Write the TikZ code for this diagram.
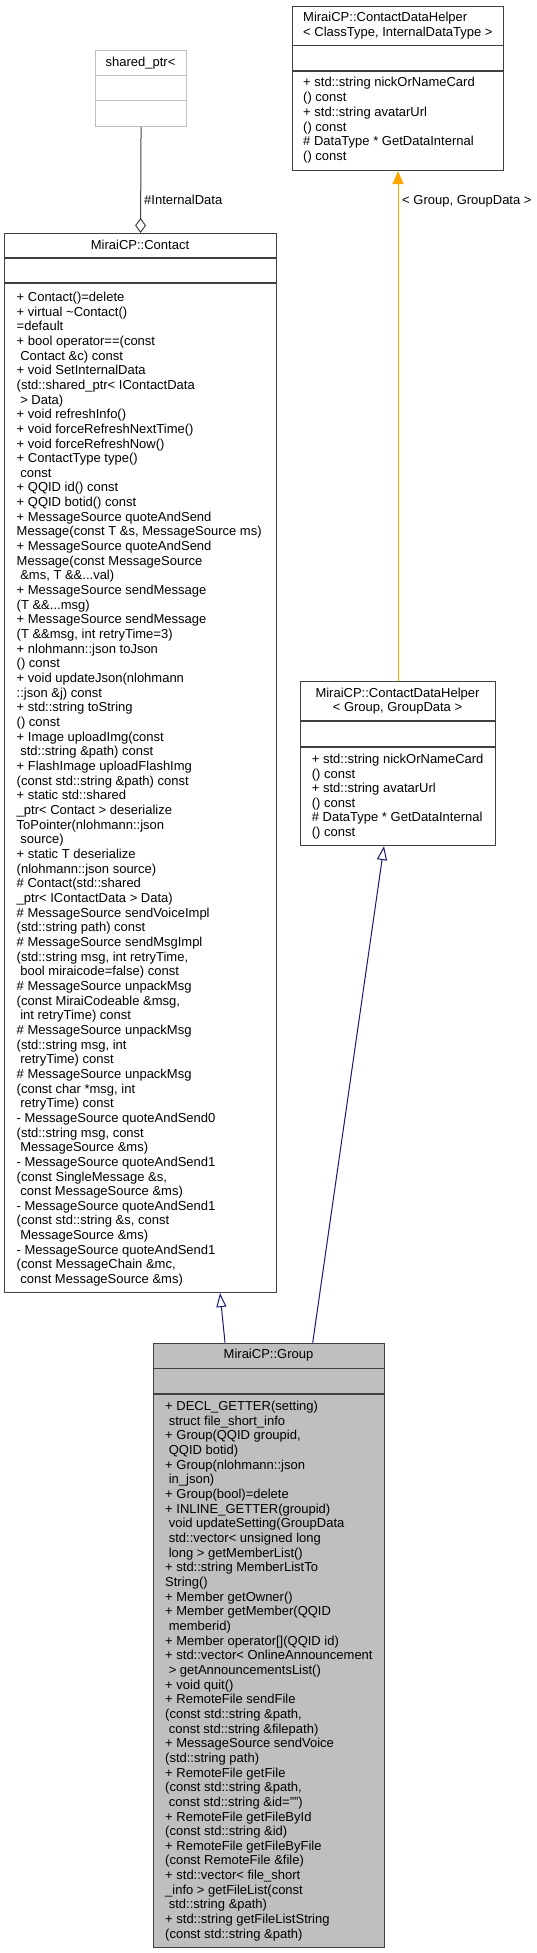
\documentclass[tikz,border=0pt]{standalone}
\usepackage{fontspec}
\setmainfont{Liberation Sans}
\usetikzlibrary{arrows.meta}
\definecolor{edgegray}{HTML}{404040}
\definecolor{lightborder}{HTML}{BFBFBF}
\definecolor{groupfill}{HTML}{BFBFBF}
\definecolor{inhblue}{HTML}{191970}
\definecolor{tmplorange}{HTML}{FFA500}
\newcommand{\lsp}{\hspace*{3.6pt}}
\newcommand{\firststrut}{\rule{0pt}{11pt}}
\begin{document}
\begin{tikzpicture}[x=1pt,y=-1pt,
  classbox/.style={draw=edgegray, line width=1.1pt, fill=white, inner sep=0pt, anchor=north west},
  divider/.style={draw=edgegray, line width=1.1pt},
  membertxt/.style={inner sep=0pt, anchor=north west, align=left, font=\fontsize{13}{14.66}\selectfont},
  titletxt/.style={inner sep=0pt, anchor=base, font=\fontsize{13}{15}\selectfont},
  lbl/.style={inner sep=0pt, anchor=base west, font=\fontsize{13}{15}\selectfont},
  aggr/.style={draw=edgegray, line width=1pt, -{Diamond[open, length=15pt, width=11pt]}},
  inh/.style={draw=inhblue, line width=1pt, -{Triangle[open, length=14pt, width=10pt]}},
  tmpl/.style={draw=tmplorange, line width=1pt, -{Triangle[length=13pt, width=11pt]}}
]
\useasboundingbox (0,0) rectangle (537,1953);

% shared_ptr<
\node[classbox, draw=lightborder, minimum width=91pt, minimum height=76pt] (sp) at (95,50) {};
\draw[divider, draw=lightborder] ([yshift=-25.3pt]sp.north west) -- ([yshift=-25.3pt]sp.north east);
\draw[divider, draw=lightborder] ([yshift=-50.7pt]sp.north west) -- ([yshift=-50.7pt]sp.north east);
\node[titletxt] (sptitle) at (140.5,66.4) {shared\_ptr<};

% ContactDataHelper template
\node[classbox, minimum width=211pt, minimum height=164.3pt] (cdht) at (292,5.7) {};
\draw[divider] ([yshift=-40pt]cdht.north west) -- ([yshift=-40pt]cdht.north east);
\draw[divider] ([yshift=-65.3pt]cdht.north west) -- ([yshift=-65.3pt]cdht.north east);
\node[membertxt, font=\fontsize{13}{15}\selectfont] (cdhttitle) at (303,10.6) {\firststrut MiraiCP::ContactDataHelper\\< ClassType, InternalDataType >};
\node[membertxt, font=\fontsize{13}{14.8}\selectfont] (cdhtmem) at (303,75.6) {\firststrut + std::string nickOrNameCard\\
() const\\
+ std::string avatarUrl\\
() const\\
\# DataType * GetDataInternal\\
() const};

% ContactDataHelper< Group, GroupData >
\node[classbox, minimum width=195pt, minimum height=164pt] (cdhg) at (300,681) {};
\draw[divider] ([yshift=-40pt]cdhg.north west) -- ([yshift=-40pt]cdhg.north east);
\draw[divider] ([yshift=-66pt]cdhg.north west) -- ([yshift=-66pt]cdhg.north east);
\node[membertxt, anchor=north, align=center, font=\fontsize{13}{14.6}\selectfont] (cdhgtitle) at (397.5,686) {\firststrut MiraiCP::ContactDataHelper\\< Group, GroupData >};
\node[membertxt, font=\fontsize{13}{14.6}\selectfont] (cdhgmem) at (311.7,752.3) {\firststrut + std::string nickOrNameCard\\
() const\\
+ std::string avatarUrl\\
() const\\
\# DataType * GetDataInternal\\
() const};

% Contact
\node[classbox, minimum width=272pt, minimum height=1059pt] (contact) at (4,233) {};
\draw[divider] ([yshift=-25pt]contact.north west) -- ([yshift=-25pt]contact.north east);
\draw[divider] ([yshift=-50pt]contact.north west) -- ([yshift=-50pt]contact.north east);
\node[titletxt] (contacttitle) at (140,249.5) {MiraiCP::Contact};
\node[membertxt] (contactmem) at (16.5,290.2) {\firststrut + Contact()=delete\\
+ virtual \textasciitilde Contact()\\
=default\\
+ bool operator==(const\\
\lsp Contact \&c) const\\
+ void SetInternalData\\
(std::shared\_ptr< IContactData\\
\lsp > Data)\\
+ void refreshInfo()\\
+ void forceRefreshNextTime()\\
+ void forceRefreshNow()\\
+ ContactType type()\\
\lsp const\\
+ QQID id() const\\
+ QQID botid() const\\
+ MessageSource quoteAndSend\\
Message(const T \&s, MessageSource ms)\\
+ MessageSource quoteAndSend\\
Message(const MessageSource\\
\lsp \&ms, T \&\&...val)\\
+ MessageSource sendMessage\\
(T \&\&...msg)\\
+ MessageSource sendMessage\\
(T \&\&msg, int retryTime=3)\\
+ nlohmann::json toJson\\
() const\\
+ void updateJson(nlohmann\\
::json \&j) const\\
+ std::string toString\\
() const\\
+ Image uploadImg(const\\
\lsp std::string \&path) const\\
+ FlashImage uploadFlashImg\\
(const std::string \&path) const\\
+ static std::shared\\
\_ptr< Contact > deserialize\\
ToPointer(nlohmann::json\\
\lsp source)\\
+ static T deserialize\\
(nlohmann::json source)\\
\# Contact(std::shared\\
\_ptr< IContactData > Data)\\
\# MessageSource sendVoiceImpl\\
(std::string path) const\\
\# MessageSource sendMsgImpl\\
(std::string msg, int retryTime,\\
\lsp bool miraicode=false) const\\
\# MessageSource unpackMsg\\
(const MiraiCodeable \&msg,\\
\lsp int retryTime) const\\
\# MessageSource unpackMsg\\
(std::string msg, int\\
\lsp retryTime) const\\
\# MessageSource unpackMsg\\
(const char *msg, int\\
\lsp retryTime) const\\
- MessageSource quoteAndSend0\\
(std::string msg, const\\
\lsp MessageSource \&ms)\\
- MessageSource quoteAndSend1\\
(const SingleMessage \&s,\\
\lsp const MessageSource \&ms)\\
- MessageSource quoteAndSend1\\
(const std::string \&s, const\\
\lsp MessageSource \&ms)\\
- MessageSource quoteAndSend1\\
(const MessageChain \&mc,\\
\lsp const MessageSource \&ms)};

% Group
\node[classbox, fill=groupfill, minimum width=231.6pt, minimum height=604.3pt] (group) at (152.7,1342.7) {};
\draw[divider] ([yshift=-26pt]group.north west) -- ([yshift=-26pt]group.north east);
\draw[divider] ([yshift=-51.3pt]group.north west) -- ([yshift=-51.3pt]group.north east);
\node[titletxt] (grouptitle) at (268.5,1358.5) {MiraiCP::Group};
\node[membertxt] (groupmem) at (165,1399.3) {\firststrut + DECL\_GETTER(setting)\\
\lsp struct file\_short\_info\\
+ Group(QQID groupid,\\
\lsp QQID botid)\\
+ Group(nlohmann::json\\
\lsp in\_json)\\
+ Group(bool)=delete\\
+ INLINE\_GETTER(groupid)\\
\lsp void updateSetting(GroupData\\
\lsp std::vector< unsigned long\\
\lsp long > getMemberList()\\
+ std::string MemberListTo\\
String()\\
+ Member getOwner()\\
+ Member getMember(QQID\\
\lsp memberid)\\
+ Member operator[](QQID id)\\
+ std::vector< OnlineAnnouncement\\
\lsp > getAnnouncementsList()\\
+ void quit()\\
+ RemoteFile sendFile\\
(const std::string \&path,\\
\lsp const std::string \&filepath)\\
+ MessageSource sendVoice\\
(std::string path)\\
+ RemoteFile getFile\\
(const std::string \&path,\\
\lsp const std::string \&id="")\\
+ RemoteFile getFileById\\
(const std::string \&id)\\
+ RemoteFile getFileByFile\\
(const RemoteFile \&file)\\
+ std::vector< file\_short\\
\_info > getFileList(const\\
\lsp std::string \&path)\\
+ std::string getFileListString\\
(const std::string \&path)};

% connectors
\draw[aggr] (sp.south) -- (contact.north);
\node[lbl] (lint) at (144,205) {\#InternalData};
\draw[tmpl] (cdhg.north) -- (cdht.south);
\node[lbl] (lgrp) at (402,205) {< Group, GroupData >};
\draw[inh] ([xshift=72.3pt]group.north west) -- ([xshift=216pt]contact.south west);
\draw[inh] ([xshift=160pt]group.north west) -- ([xshift=84pt]cdhg.south west);
\end{tikzpicture}
\end{document}
